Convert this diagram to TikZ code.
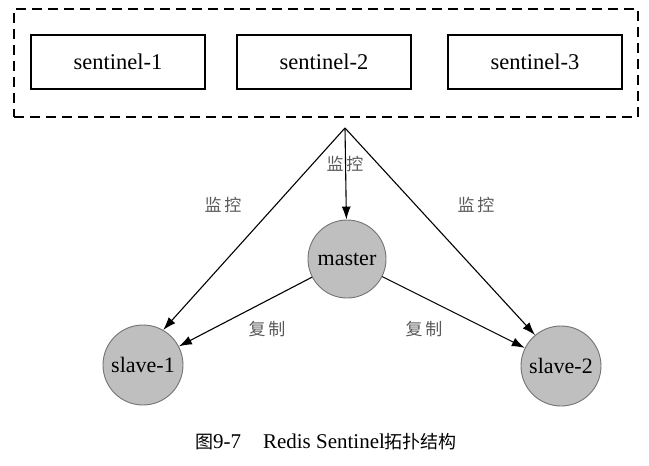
\documentclass[tikz,border=0pt]{standalone}
\usepackage{fontspec}
\setmainfont{Liberation Serif}
\newfontfamily\cjk{Noto Sans CJK SC}
\usetikzlibrary{arrows.meta}
\begin{document}
\begin{tikzpicture}[x=1pt,y=-1pt,
  sbox/.style={draw,line width=1.7pt,minimum width=174pt,minimum height=54pt,inner sep=0pt,font=\fontsize{22.5}{25}\selectfont},
  ring/.style={circle,draw=black!55,fill=black!25,line width=0.9pt,minimum size=78pt,inner sep=0pt,font=\fontsize{22}{25}\selectfont},
  arr/.style={line width=1.1pt,-{Latex[length=13pt,width=9pt]}},
  lab/.style={font=\cjk\fontsize{17}{19}\selectfont,text=black!65}]
\useasboundingbox (0,0) rectangle (649,466);
\node[draw,dashed,dash pattern=on 10pt off 6pt,line width=1.8pt,minimum width=624pt,minimum height=108pt] (grp) at (326,63) {};
\node[sbox] (s1) at (118,62) {sentinel-1};
\node[sbox] (s2) at (324,62) {sentinel-2};
\node[sbox] (s3) at (535,62) {sentinel-3};
\coordinate (top) at (345,128);
\node[ring] (m) at (347,259) {master};
\node[ring,minimum size=80pt] (sl1) at (143,365) {slave-1};
\node[ring,minimum size=80pt] (sl2) at (561,366) {slave-2};
\draw[arr] (top) -- (sl1.60);
\draw[arr] (top) -- (m);
\draw[arr] (top) -- (sl2.130);
\draw[arr] (m) -- (sl1);
\draw[arr] (m) -- (sl2);
\node[lab] (l1) at (223,205) {监\,控};
\node[lab] (l2) at (345,164) {监\,控};
\node[lab] (l3) at (476,205) {监\,控};
\node[lab] (l4) at (267,329) {复\,制};
\node[lab] (l5) at (424,329) {复\,制};
\node[font=\fontsize{21}{23}\selectfont] (cap) at (326,442) {{\cjk\fontsize{18}{20}\selectfont 图}9-7\hspace{22pt}Redis Sentinel{\cjk\fontsize{18}{20}\selectfont 拓扑结构}};
\end{tikzpicture}
\end{document}
